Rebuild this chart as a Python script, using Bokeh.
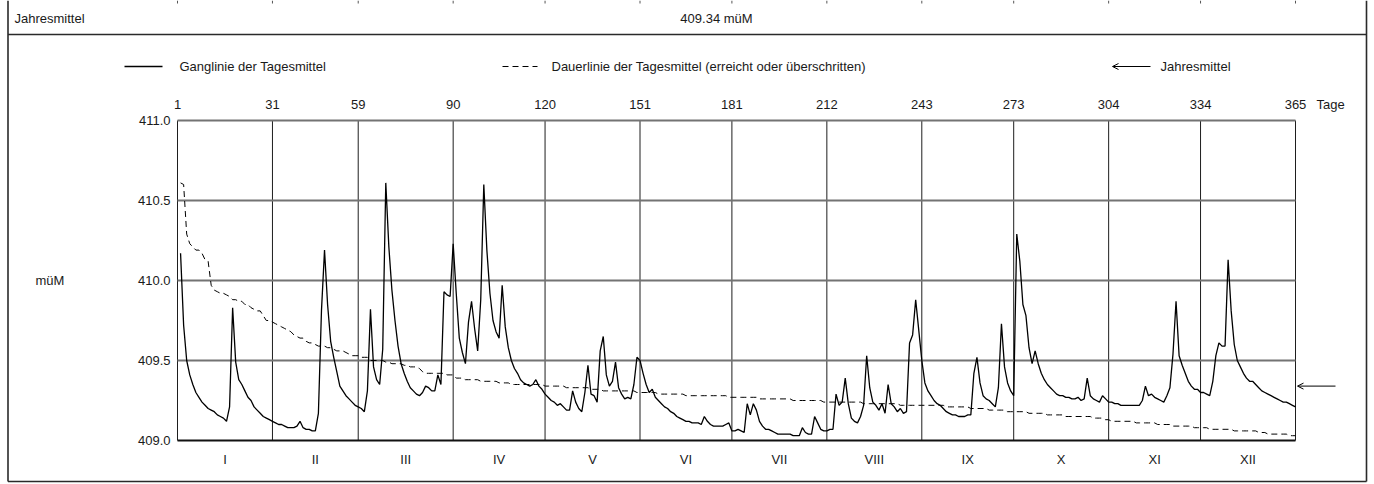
from bokeh.plotting import figure
from bokeh.models import Range1d, Label, Arrow, OpenHead
from bokeh.core.properties import value
from bokeh.embed import file_html
from bokeh.resources import INLINE

# ---------------- data ----------------
jan = [410.17, 409.72, 409.50, 409.41, 409.35, 409.30, 409.27, 409.24, 409.22, 409.20,
       409.19, 409.18, 409.16, 409.15, 409.14, 409.12, 409.21, 409.83, 409.49, 409.38,
       409.35, 409.31, 409.27, 409.25, 409.21, 409.19, 409.17, 409.15, 409.14, 409.13, 409.12]
feb = [409.11, 409.10, 409.10, 409.09, 409.08, 409.08, 409.08, 409.09, 409.12, 409.08,
       409.07, 409.07, 409.06, 409.06, 409.17, 409.81, 410.19, 409.85, 409.62, 409.52,
       409.43, 409.34, 409.31, 409.28, 409.26, 409.24, 409.22, 409.21]
mar = [409.20, 409.18, 409.31, 409.82, 409.46, 409.38, 409.35, 409.57, 410.61, 410.21,
       409.94, 409.75, 409.59, 409.48, 409.42, 409.37, 409.33, 409.31, 409.29, 409.28,
       409.30, 409.34, 409.33, 409.31, 409.31, 409.41, 409.35, 409.93, 409.91, 409.90, 410.23]
apr = [409.92, 409.64, 409.55, 409.48, 409.74, 409.87, 409.70, 409.56, 409.88, 410.60,
       410.19, 409.92, 409.75, 409.68, 409.64, 409.97, 409.71, 409.58, 409.50, 409.45,
       409.42, 409.38, 409.36, 409.35, 409.34, 409.35, 409.38, 409.34, 409.32, 409.29]
may = [409.27, 409.25, 409.24, 409.22, 409.23, 409.21, 409.19, 409.19, 409.31, 409.24,
       409.20, 409.18, 409.30, 409.47, 409.29, 409.28, 409.24, 409.56, 409.65, 409.41,
       409.34, 409.37, 409.49, 409.33, 409.29, 409.26, 409.27, 409.26, 409.35, 409.52, 409.50]
jun = [409.42, 409.35, 409.30, 409.32, 409.27, 409.25, 409.23, 409.21, 409.20, 409.18,
       409.17, 409.15, 409.14, 409.13, 409.12, 409.12, 409.11, 409.11, 409.11, 409.10,
       409.15, 409.12, 409.10, 409.09, 409.09, 409.09, 409.09, 409.10, 409.11, 409.06]
jul = [409.06, 409.07, 409.06, 409.05, 409.23, 409.16, 409.23, 409.19, 409.12, 409.09,
       409.07, 409.07, 409.06, 409.05, 409.04, 409.04, 409.04, 409.04, 409.04, 409.03,
       409.03, 409.03, 409.08, 409.05, 409.04, 409.04, 409.15, 409.11, 409.07, 409.06, 409.06]
aug = [409.07, 409.07, 409.29, 409.22, 409.24, 409.39, 409.23, 409.14, 409.12, 409.11,
       409.15, 409.22, 409.53, 409.33, 409.24, 409.22, 409.19, 409.23, 409.17, 409.35,
       409.23, 409.21, 409.18, 409.20, 409.17, 409.18, 409.61, 409.66, 409.88, 409.69, 409.50]
sep = [409.36, 409.31, 409.28, 409.25, 409.23, 409.22, 409.20, 409.18, 409.17, 409.16,
       409.16, 409.15, 409.15, 409.15, 409.16, 409.16, 409.42, 409.52, 409.36, 409.28,
       409.26, 409.25, 409.23, 409.21, 409.33, 409.73, 409.46, 409.36, 409.31, 409.28]
oct_ = [410.29, 410.12, 409.85, 409.78, 409.58, 409.48, 409.56, 409.48, 409.42, 409.38,
        409.35, 409.33, 409.31, 409.29, 409.28, 409.28, 409.27, 409.27, 409.26, 409.26,
        409.27, 409.25, 409.26, 409.39, 409.28, 409.26, 409.25, 409.24, 409.28, 409.26, 409.24]
nov = [409.24, 409.23, 409.23, 409.22, 409.22, 409.22, 409.22, 409.22, 409.22, 409.22,
       409.25, 409.34, 409.28, 409.29, 409.27, 409.26, 409.25, 409.24, 409.28, 409.33,
       409.54, 409.87, 409.53, 409.47, 409.42, 409.37, 409.34, 409.32, 409.32, 409.30]
dec = [409.30, 409.29, 409.28, 409.37, 409.53, 409.61, 409.59, 409.59, 410.13, 409.81,
       409.60, 409.50, 409.46, 409.42, 409.39, 409.37, 409.37, 409.35, 409.33, 409.31,
       409.30, 409.29, 409.28, 409.27, 409.26, 409.25, 409.24, 409.24, 409.23, 409.22, 409.21]

annual_mean = 409.34
day_ticks = [0, 31, 59, 90, 120, 151, 181, 212, 243, 273, 304, 334, 365]
day_tick_labels = ["1", "31", "59", "90", "120", "151", "181", "212", "243", "273", "304", "334", "365"]
month_names = ["I", "II", "III", "IV", "V", "VI", "VII", "VIII", "IX", "X", "XI", "XII"]
y_ticks = [409.0, 409.5, 410.0, 410.5, 411.0]
y_tick_labels = ["409.0", "409.5", "410.0", "410.5", "411.0"]

values = jan + feb + mar + apr + may + jun + jul + aug + sep + oct_ + nov + dec
days = list(range(1, len(values) + 1))
duration = sorted(values, reverse=True)   # Dauerlinie: reached or exceeded

FONT = "Liberation Sans"
FS = "13px"
TXT = "#1a1a1a"

# ---------------- geometry: plot area inside a full-canvas frame ----------------
W, H = 1374, 484
LEFT, RIGHT, TOP, BOTTOM = 177, 1295, 120, 440     # plot-area edges in pixels
X0, X1 = day_ticks[0], day_ticks[-1]
Y0, Y1 = y_ticks[0], y_ticks[-1]
sx = (RIGHT - LEFT) / (X1 - X0)
sy = (BOTTOM - TOP) / (Y1 - Y0)

p = figure(width=W, height=H,
           x_range=Range1d(X0 - LEFT / sx, X1 + (W - RIGHT) / sx),
           y_range=Range1d(Y0 - (H - BOTTOM) / sy, Y1 + TOP / sy),
           x_axis_type=None, y_axis_type=None, min_border=0,
           output_backend="svg", toolbar_location=None)
p.outline_line_color = None
p.xgrid.visible = False
p.ygrid.visible = False
p.background_fill_color = "white"
p.border_fill_color = "white"

def dx(X):   # pixel -> x data
    return X0 + (X - LEFT) / sx

def dy(Y):   # pixel -> y data
    return Y1 - (Y - TOP) / sy

# grid: month lines (black) and level lines (grey)
p.segment(x0=day_ticks, y0=[Y0] * len(day_ticks), x1=day_ticks, y1=[Y1] * len(day_ticks),
          line_color="#1e1e1e", line_width=1)
p.segment(x0=[X0] * 4, y0=y_ticks[1:], x1=[X1] * 4, y1=y_ticks[1:],
          line_color="#737373", line_width=2)
p.segment(x0=[X0], y0=[Y0], x1=[X1], y1=[Y0], line_color="#111111", line_width=2)

# series
p.line(days, duration, line_color="black", line_width=1, line_dash="6 4")
p.line(days, values, line_color="black", line_width=1.3)

# tick labels
month_mid = [(day_ticks[i] + day_ticks[i + 1]) / 2 for i in range(12)]
txt_kw = dict(text_font=value(FONT), text_font_size=value(FS), text_color=TXT,
              text_baseline="middle")
p.text(x=day_ticks, y=[dy(104)] * len(day_ticks), text=day_tick_labels,
       text_align="center", **txt_kw)
p.text(x=[dx(170)] * len(y_ticks), y=y_ticks, text=y_tick_labels, text_align="right", **txt_kw)
p.text(x=month_mid, y=[dy(459)] * 12, text=month_names, text_align="center", **txt_kw)

# ---------------- decorations ----------------
def seg(Xa, Ya, Xb, Yb, color="#2a2a2a", width=1.6, dash="solid"):
    p.line([dx(Xa), dx(Xb)], [dy(Ya), dy(Yb)], line_color=color, line_width=width,
           line_dash=dash)

def text(X, Y, s, align="left"):
    p.add_layout(Label(x=dx(X), y=dy(Y), text=s, text_font=FONT, text_font_size=FS,
                       text_color=TXT, text_align=align, text_baseline="middle"))

# outer frame, header row, column marks of the table above
seg(7.5, 0, 7.5, 481)
seg(1366, 0, 1366, 481)
seg(7.5, 481, 1366, 481)
seg(7.5, 34, 1366, 34)
p.segment(x0=day_ticks, y0=[dy(0)] * len(day_ticks), x1=day_ticks, y1=[dy(3)] * len(day_ticks),
          line_color="#555555", line_width=1)
text(14, 17.5, "Jahresmittel")
text(716, 17.5, f"{annual_mean:.2f} müM", align="center")

# legend row
LY = 66
seg(124, LY, 162, LY, color="black", width=1.3)
text(179, LY, "Ganglinie der Tagesmittel")
seg(502, LY, 537, LY, color="black", width=1, dash="6 4")
text(551, LY, "Dauerlinie der Tagesmittel (erreicht oder überschritten)")
p.add_layout(Arrow(end=OpenHead(size=6, line_width=1, line_color="black"),
                   x_start=dx(1150), y_start=dy(LY), x_end=dx(1112), y_end=dy(LY),
                   line_color="black", line_width=1))
text(1160, LY, "Jahresmittel")

# axis captions
text(1316, 104, "Tage")
text(35, 280, "müM")

# annual mean arrow at the right of the plot area
p.add_layout(Arrow(end=OpenHead(size=6, line_width=1, line_color="black"),
                   x_start=dx(1335), y_start=annual_mean, x_end=dx(1297), y_end=annual_mean,
                   line_color="black", line_width=1))

open("out.html", "w").write(file_html(p, INLINE))
